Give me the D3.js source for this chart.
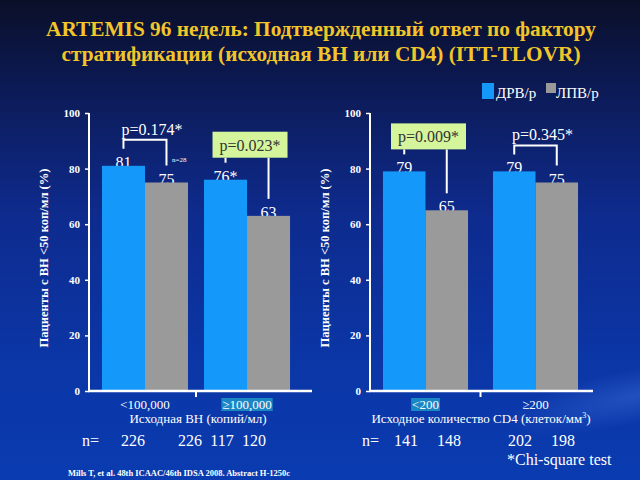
<!DOCTYPE html>
<html><head><meta charset="utf-8">
<script src="https://cdn.jsdelivr.net/npm/d3@7"></script>
<style>html,body{margin:0;padding:0;background:#0a1030;}svg{display:block;}</style>
</head><body>
<script>
// ---- data ----
const seriesNames = ["ДРВ/р", "ЛПВ/р"];
const groupsVL = ["<100,000", "≥100,000"];
const groupsCD4 = ["<200", "≥200"];
const drvVL = [81, 76];
const lpvVL = [75, 63];
const drvCD4 = [79, 79];
const lpvCD4 = [65, 75];
const labelsVL = [["81", "75"], ["76*", "63"]];
const labelsCD4 = [["79", "65"], ["79", "75"]];
const pVL = ["p=0.174*", "p=0.023*"];
const pCD4 = ["p=0.009*", "p=0.345*"];
const pBoxedVL = [false, true];
const pBoxedCD4 = [true, false];
const nVL = ["226", "226", "117", "120"];
const nCD4 = ["141", "148", "202", "198"];
const yTicks = [0, 20, 40, 60, 80, 100];
const highlightVL = [false, true];
const highlightCD4 = [true, false];
const titleLines = ["ARTEMIS 96 недель: Подтвержденный ответ по фактору", "стратификации (исходная ВН или CD4) (ITT-TLOVR)"];
const yTitle = "Пациенты с ВН <50 коп/мл (%)";

const W = 640, H = 480;
const colors = ["#1499fb", "#9a9a9a"];
const FONT = "'Liberation Serif', 'Times New Roman', serif";

const svg = d3.select("body").append("svg").attr("width", W).attr("height", H);
const defs = svg.append("defs");
const bg = defs.append("linearGradient").attr("id", "bg").attr("x1", 0).attr("y1", 0).attr("x2", 0).attr("y2", 1);
[[0, "#0a0f28"], [0.18, "#0c1a55"], [0.45, "#0e2b8e"], [0.75, "#0b36a6"], [1, "#0a3bb0"]].forEach(s =>
  bg.append("stop").attr("offset", s[0]).attr("stop-color", s[1]));
svg.append("rect").attr("width", W).attr("height", H).attr("fill", "url(#bg)");
const streak = defs.append("radialGradient").attr("id", "streak");
streak.append("stop").attr("offset", 0).attr("stop-color", "#3f6fd8").attr("stop-opacity", 0.45);
streak.append("stop").attr("offset", 1).attr("stop-color", "#3f6fd8").attr("stop-opacity", 0);
svg.append("ellipse").attr("cx", 640).attr("cy", 395).attr("rx", 140).attr("ry", 28)
  .attr("transform", "rotate(-12 640 395)").attr("fill", "url(#streak)");

// title
const titleWidths = [550, 519];
svg.append("g").selectAll("text").data(titleLines).join("text")
  .attr("x", 321).attr("y", (d, i) => 36 + i * 25)
  .attr("text-anchor", "middle").attr("fill", "#f2c52a")
  .attr("font-family", FONT).attr("font-weight", "bold").attr("font-size", 21)
  .attr("textLength", (d, i) => titleWidths[i]).attr("lengthAdjust", "spacingAndGlyphs")
  .text(d => d);

// legend
const leg = svg.append("g").attr("font-family", FONT).attr("font-size", 15).attr("fill", "#fff");
leg.append("rect").attr("x", 482).attr("y", 83).attr("width", 12).attr("height", 16).attr("fill", colors[0]);
leg.append("text").attr("x", 496).attr("y", 98).attr("fill", "#fff").text(seriesNames[0]);
leg.append("rect").attr("x", 546).attr("y", 83).attr("width", 10).attr("height", 10).attr("fill", colors[1]);
leg.append("text").attr("x", 556).attr("y", 98).attr("fill", "#fff").text(seriesNames[1]);

const y = d3.scaleLinear().domain([0, 100]).range([391, 113]);

function panel(cfg) {
  const g = svg.append("g").attr("font-family", FONT);
  const x0 = d3.scaleBand().domain(cfg.groups).range(cfg.range)
    .paddingInner(cfg.pi).paddingOuter(cfg.po);
  const x1 = d3.scaleBand().domain(seriesNames).range([0, x0.bandwidth()]);
  const rows = cfg.groups.map((grp, i) => ({grp, i, vals: [cfg.drv[i], cfg.lpv[i]]}));

  // value labels (behind bars)
  rows.forEach(r => {
    r.vals.forEach((v, j) => {
      g.append("text").attr("x", x0(r.grp) + x1(seriesNames[j]) + x1.bandwidth() / 2)
        .attr("y", y(v) + 2).attr("text-anchor", "middle").attr("fill", "#fff")
        .attr("font-size", 16).text(cfg.labels[r.i][j]);
    });
  });
  // bars
  rows.forEach(r => {
    g.append("g").selectAll("rect").data(r.vals).join("rect")
      .attr("x", (v, j) => x0(r.grp) + x1(seriesNames[j]))
      .attr("y", v => y(v)).attr("width", x1.bandwidth())
      .attr("height", v => y(0) - y(v)).attr("fill", (v, j) => colors[j]);
  });

  // y axis
  const ya = g.append("g").attr("transform", `translate(${cfg.axisX},0)`)
    .call(d3.axisLeft(y).tickValues(yTicks).tickSize(4).tickPadding(5).tickFormat(d3.format("d")));
  ya.select(".domain").attr("stroke", "#fff").attr("stroke-width", 2).attr("d", `M0,${y(100)}V${y(0)}`);
  ya.selectAll(".tick line").attr("stroke", "#fff").attr("stroke-width", 1.5);
  ya.selectAll(".tick text").attr("fill", "#fff").attr("font-family", FONT)
    .attr("font-weight", "bold").attr("font-size", 11);
  // x axis line
  g.append("line").attr("x1", cfg.axisX - 1).attr("x2", cfg.axisEnd).attr("y1", y(0)).attr("y2", y(0))
    .attr("stroke", "#fff").attr("stroke-width", 2.5);
  const midX = (x0(cfg.groups[0]) + x0.bandwidth() + x0(cfg.groups[1])) / 2;
  g.append("line").attr("x1", midX).attr("x2", midX).attr("y1", y(0)).attr("y2", y(0) + 6)
    .attr("stroke", "#fff").attr("stroke-width", 2);

  // y title
  g.append("text").attr("transform", `translate(${cfg.axisX - 41},${258}) rotate(-90)`)
    .attr("text-anchor", "middle").attr("fill", "#fff").attr("font-weight", "bold")
    .attr("font-size", 12.5).attr("textLength", 179).attr("lengthAdjust", "spacingAndGlyphs").text(yTitle);

  // x tick labels
  cfg.groups.forEach((grp, i) => {
    const cx = x0(grp) + x0.bandwidth() / 2;
    const t = g.append("text").attr("x", cx).attr("y", 409).attr("text-anchor", "middle")
      .attr("fill", "#fff").attr("font-size", 13).text(grp);
    if (cfg.highlight[i]) {
      const bb = t.node().getBBox();
      g.insert("rect", () => t.node()).attr("x", bb.x - 1).attr("y", 398)
        .attr("width", bb.width + 2).attr("height", 13).attr("fill", "#1b86c4");
    }
  });
  // x title
  const xt = g.append("text").attr("x", cfg.xTitleX).attr("y", 423).attr("text-anchor", "middle")
    .attr("fill", "#fff").attr("font-size", 13);
  cfg.xTitle.forEach(p => {
    const ts = xt.append("tspan").text(p.t);
    if (p.sup) ts.attr("font-size", 8).attr("dy", -5);
    if (p.after) ts.attr("dy", 5);
  });

  // n row
  const nr = g.append("g").attr("fill", "#fff").attr("font-size", 16);
  nr.append("text").attr("x", cfg.nLabelX).attr("y", 446).attr("fill", "#fff").text("n=");
  nr.selectAll("text.n").data(cfg.n).join("text").attr("class", "n")
    .attr("x", (d, i) => cfg.nX[i]).attr("y", 446).attr("text-anchor", "middle")
    .attr("fill", "#fff").text(d => d);

  // p brackets
  rows.forEach(r => {
    const xa = x0(r.grp) + x1(seriesNames[0]) + x1.bandwidth() / 2;
    const xb = x0(r.grp) + x1(seriesNames[1]) + x1.bandwidth() / 2;
    const top = y(Math.max(...r.vals));
    const boxed = cfg.boxed[r.i];
    const bs = g.append("g");
    if (boxed) {
      const bb = top - 22;
      const cx = (xa + xb) / 2 + 3;
      bs.append("line").attr("x1", xa).attr("x2", xa).attr("y1", bb).attr("y2", y(r.vals[0]) - 17)
        .attr("stroke", "#fff").attr("stroke-width", 2);
      bs.append("line").attr("x1", xb).attr("x2", xb).attr("y1", bb).attr("y2", y(r.vals[1]) - 17)
        .attr("stroke", "#fff").attr("stroke-width", 2);
      bs.append("rect").attr("x", cx - 37.5).attr("y", bb - 26).attr("width", 75).attr("height", 26)
        .attr("fill", "#d4f59c");
      bs.append("text").attr("x", cx).attr("y", bb - 7).attr("text-anchor", "middle")
        .attr("fill", "#333").attr("font-size", 16).text(cfg.p[r.i]);
    } else {
      const by = top - 26;
      bs.append("path").attr("d", `M${xa},${y(r.vals[0]) - 17}V${by}H${xb}V${y(r.vals[1]) - 17}`)
        .attr("fill", "none").attr("stroke", "#fff").attr("stroke-width", 2);
      bs.append("text").attr("x", (xa + xb) / 2 + 7).attr("y", by - 5).attr("text-anchor", "middle")
        .attr("fill", "#fff").attr("font-size", 16).text(cfg.p[r.i]);
    }
  });
  return g;
}

const left = panel({
  groups: groupsVL, drv: drvVL, lpv: lpvVL, labels: labelsVL, p: pVL, boxed: pBoxedVL,
  n: nVL, highlight: highlightVL, range: [89, 303], pi: 0.157, po: 0.127, axisX: 89, axisEnd: 312,
  xTitleX: 198, xTitle: [{t: "Исходная ВН (копий/мл)"}], nLabelX: 82, nX: [133, 190, 222, 254]
});
left.append("text").attr("x", 172).attr("y", 162).attr("fill", "#fff").attr("font-size", 7).text("n=28");

panel({
  groups: groupsCD4, drv: drvCD4, lpv: lpvCD4, labels: labelsCD4, p: pCD4, boxed: pBoxedCD4,
  n: nCD4, highlight: highlightCD4, range: [370, 591], pi: 0.227, po: 0.118, axisX: 370, axisEnd: 593,
  xTitleX: 481, xTitle: [{t: "Исходное количество CD4 (клеток/мм"}, {t: "3", sup: true}, {t: ")", after: true}],
  nLabelX: 362, nX: [406, 449, 520, 563]
});

svg.append("text").attr("x", 507).attr("y", 465).attr("fill", "#fff").attr("font-family", FONT)
  .attr("font-size", 16).text("*Chi-square test");
svg.append("text").attr("x", 179).attr("y", 476).attr("text-anchor", "middle").attr("fill", "#fff")
  .attr("font-family", FONT).attr("font-size", 9).attr("font-weight", "bold")
  .attr("textLength", 222).attr("lengthAdjust", "spacingAndGlyphs")
  .text("Mills T, et al. 48th ICAAC/46th IDSA 2008. Abstract H-1250c");
</script>
</body></html>
